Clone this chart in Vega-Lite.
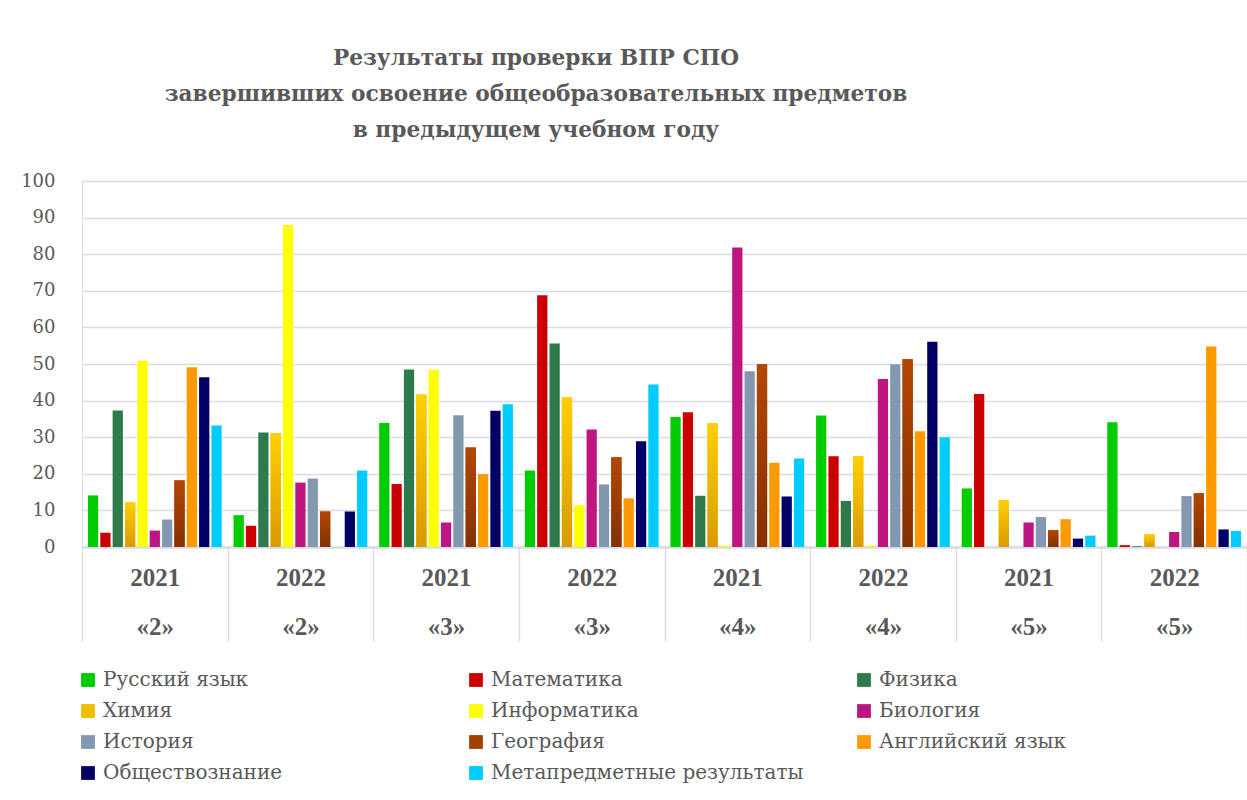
{
  "$schema": "https://vega.github.io/schema/vega-lite/v6.json",
  "width": 1165,
  "height": 366,
  "autosize": {"type": "none"},
  "padding": {"left": 82, "top": 181, "right": 0, "bottom": 253},
  "background": "white",
  "title": {
    "text": ["Результаты проверки ВПР СПО", "завершивших освоение общеобразовательных предметов", "в предыдущем учебном году"],
    "font": "DejaVu Serif", "fontSize": 21.7, "fontWeight": "bold", "color": "#595959",
    "anchor": "start", "frame": "group", "align": "center", "dx": 454, "lineHeight": 36, "offset": 30
  },
  "data": {"values": [
    {"group": "2021 «2»", "subject": "Русский язык", "value": 14.1},
    {"group": "2021 «2»", "subject": "Математика", "value": 3.9},
    {"group": "2021 «2»", "subject": "Физика", "value": 37.3},
    {"group": "2021 «2»", "subject": "Химия", "value": 12.2},
    {"group": "2021 «2»", "subject": "Информатика", "value": 50.9},
    {"group": "2021 «2»", "subject": "Биология", "value": 4.5},
    {"group": "2021 «2»", "subject": "История", "value": 7.5},
    {"group": "2021 «2»", "subject": "География", "value": 18.2},
    {"group": "2021 «2»", "subject": "Английский язык", "value": 49.1},
    {"group": "2021 «2»", "subject": "Обществознание", "value": 46.4},
    {"group": "2021 «2»", "subject": "Метапредметные результаты", "value": 33.2},
    {"group": "2022 «2»", "subject": "Русский язык", "value": 8.7},
    {"group": "2022 «2»", "subject": "Математика", "value": 5.8},
    {"group": "2022 «2»", "subject": "Физика", "value": 31.3},
    {"group": "2022 «2»", "subject": "Химия", "value": 31.1},
    {"group": "2022 «2»", "subject": "Информатика", "value": 88.0},
    {"group": "2022 «2»", "subject": "Биология", "value": 17.6},
    {"group": "2022 «2»", "subject": "История", "value": 18.7},
    {"group": "2022 «2»", "subject": "География", "value": 9.7},
    {"group": "2022 «2»", "subject": "Английский язык", "value": 0},
    {"group": "2022 «2»", "subject": "Обществознание", "value": 9.7},
    {"group": "2022 «2»", "subject": "Метапредметные результаты", "value": 20.9},
    {"group": "2021 «3»", "subject": "Русский язык", "value": 33.9},
    {"group": "2021 «3»", "subject": "Математика", "value": 17.2},
    {"group": "2021 «3»", "subject": "Физика", "value": 48.5},
    {"group": "2021 «3»", "subject": "Химия", "value": 41.7},
    {"group": "2021 «3»", "subject": "Информатика", "value": 48.4},
    {"group": "2021 «3»", "subject": "Биология", "value": 6.7},
    {"group": "2021 «3»", "subject": "История", "value": 36.0},
    {"group": "2021 «3»", "subject": "География", "value": 27.2},
    {"group": "2021 «3»", "subject": "Английский язык", "value": 19.9},
    {"group": "2021 «3»", "subject": "Обществознание", "value": 37.2},
    {"group": "2021 «3»", "subject": "Метапредметные результаты", "value": 39.0},
    {"group": "2022 «3»", "subject": "Русский язык", "value": 20.9},
    {"group": "2022 «3»", "subject": "Математика", "value": 68.8},
    {"group": "2022 «3»", "subject": "Физика", "value": 55.6},
    {"group": "2022 «3»", "subject": "Химия", "value": 40.9},
    {"group": "2022 «3»", "subject": "Информатика", "value": 11.4},
    {"group": "2022 «3»", "subject": "Биология", "value": 32.1},
    {"group": "2022 «3»", "subject": "История", "value": 17.1},
    {"group": "2022 «3»", "subject": "География", "value": 24.5},
    {"group": "2022 «3»", "subject": "Английский язык", "value": 13.3},
    {"group": "2022 «3»", "subject": "Обществознание", "value": 28.9},
    {"group": "2022 «3»", "subject": "Метапредметные результаты", "value": 44.4},
    {"group": "2021 «4»", "subject": "Русский язык", "value": 35.5},
    {"group": "2021 «4»", "subject": "Математика", "value": 36.8},
    {"group": "2021 «4»", "subject": "Физика", "value": 14.0},
    {"group": "2021 «4»", "subject": "Химия", "value": 33.8},
    {"group": "2021 «4»", "subject": "Информатика", "value": 0.4},
    {"group": "2021 «4»", "subject": "Биология", "value": 81.8},
    {"group": "2021 «4»", "subject": "История", "value": 48.0},
    {"group": "2021 «4»", "subject": "География", "value": 49.9},
    {"group": "2021 «4»", "subject": "Английский язык", "value": 23.0},
    {"group": "2021 «4»", "subject": "Обществознание", "value": 13.8},
    {"group": "2021 «4»", "subject": "Метапредметные результаты", "value": 24.2},
    {"group": "2022 «4»", "subject": "Русский язык", "value": 35.9},
    {"group": "2022 «4»", "subject": "Математика", "value": 24.8},
    {"group": "2022 «4»", "subject": "Физика", "value": 12.6},
    {"group": "2022 «4»", "subject": "Химия", "value": 24.8},
    {"group": "2022 «4»", "subject": "Информатика", "value": 0.4},
    {"group": "2022 «4»", "subject": "Биология", "value": 45.9},
    {"group": "2022 «4»", "subject": "История", "value": 49.9},
    {"group": "2022 «4»", "subject": "География", "value": 51.3},
    {"group": "2022 «4»", "subject": "Английский язык", "value": 31.6},
    {"group": "2022 «4»", "subject": "Обществознание", "value": 56.1},
    {"group": "2022 «4»", "subject": "Метапредметные результаты", "value": 30.0},
    {"group": "2021 «5»", "subject": "Русский язык", "value": 16.0},
    {"group": "2021 «5»", "subject": "Математика", "value": 41.8},
    {"group": "2021 «5»", "subject": "Физика", "value": 0},
    {"group": "2021 «5»", "subject": "Химия", "value": 12.8},
    {"group": "2021 «5»", "subject": "Информатика", "value": 0},
    {"group": "2021 «5»", "subject": "Биология", "value": 6.7},
    {"group": "2021 «5»", "subject": "История", "value": 8.2},
    {"group": "2021 «5»", "subject": "География", "value": 4.6},
    {"group": "2021 «5»", "subject": "Английский язык", "value": 7.6},
    {"group": "2021 «5»", "subject": "Обществознание", "value": 2.3},
    {"group": "2021 «5»", "subject": "Метапредметные результаты", "value": 3.1},
    {"group": "2022 «5»", "subject": "Русский язык", "value": 34.1},
    {"group": "2022 «5»", "subject": "Математика", "value": 0.5},
    {"group": "2022 «5»", "subject": "Физика", "value": 0.2},
    {"group": "2022 «5»", "subject": "Химия", "value": 3.5},
    {"group": "2022 «5»", "subject": "Информатика", "value": 0},
    {"group": "2022 «5»", "subject": "Биология", "value": 4.1},
    {"group": "2022 «5»", "subject": "История", "value": 13.9},
    {"group": "2022 «5»", "subject": "География", "value": 14.7},
    {"group": "2022 «5»", "subject": "Английский язык", "value": 54.8},
    {"group": "2022 «5»", "subject": "Обществознание", "value": 4.8},
    {"group": "2022 «5»", "subject": "Метапредметные результаты", "value": 4.4}
  ]},
  "encoding": {
    "x": {
      "field": "group", "type": "nominal", "sort": null,
      "scale": {"paddingInner": 0, "paddingOuter": 0},
      "axis": {
        "title": null, "labelAngle": 0, "labelExpr": "split(datum.label, ' ')",
        "labelFont": "Liberation Serif", "labelFontSize": 25, "labelFontWeight": "bold",
        "labelColor": "#595959", "labelLineHeight": 49, "labelPadding": -76, "labelBaseline": "top",
        "tickBand": "extent", "tickSize": 94, "tickColor": "#d9dde3", "tickWidth": 1.5,
        "domainColor": "#d9dde3", "domainWidth": 2.5, "grid": false
      }
    },
    "xOffset": {
      "field": "subject", "type": "nominal", "sort": null,
      "scale": {
        "domain": ["Русский язык", "Математика", "Физика", "Химия", "Информатика", "Биология", "История", "География", "Английский язык", "Обществознание", "Метапредметные результаты"],
        "paddingInner": 0.17, "paddingOuter": 0.48
      }
    },
    "y": {
      "field": "value", "type": "quantitative",
      "scale": {"domain": [0, 100], "nice": false},
      "axis": {
        "title": null, "values": [0, 10, 20, 30, 40, 50, 60, 70, 80, 90, 100],
        "labelFont": "DejaVu Serif", "labelFontSize": 18, "labelColor": "#595959",
        "labelPadding": 27, "ticks": false, "domain": false,
        "gridColor": "#d9dde3", "gridWidth": 1.5
      }
    }
  },
  "layer": [
    {
      "mark": {"type": "bar"},
      "encoding": {
        "color": {
          "field": "subject", "type": "nominal", "sort": null,
          "scale": {
            "domain": ["Русский язык", "Математика", "Физика", "Химия", "Информатика", "Биология", "История", "География", "Английский язык", "Обществознание", "Метапредметные результаты"],
            "range": ["#00cc00", "#cc0000", "#2e7a4a", "#f0bc00", "#ffff00", "#be1580", "#8497b0", "#a13f00", "#ff9900", "#000066", "#00ccff"]
          },
          "legend": {
            "orient": "none", "direction": "horizontal", "legendX": -4, "legendY": 489, "columns": 3, "gridAlign": "all",
            "columnPadding": 50, "rowPadding": 11, "symbolType": "square", "symbolSize": 190,
            "symbolStrokeWidth": 0, "labelFont": "DejaVu Serif", "labelFontSize": 20,
            "labelColor": "#595959", "labelOffset": 5, "title": null, "padding": 0, "labelLimit": 500
          }
        }
      }
    },
    {
      "transform": [{"filter": "datum.subject === 'Химия'"}],
      "mark": {"type": "bar", "fill": {"gradient": "linear", "x1": 0, "y1": 0, "x2": 0, "y2": 1, "stops": [{"offset": 0, "color": "#ffd000"}, {"offset": 1, "color": "#d99a00"}]}}
    },
    {
      "transform": [{"filter": "datum.subject === 'География'"}],
      "mark": {"type": "bar", "fill": {"gradient": "linear", "x1": 0, "y1": 0, "x2": 0, "y2": 1, "stops": [{"offset": 0, "color": "#b34700"}, {"offset": 1, "color": "#843000"}]}}
    }
  ]
}
